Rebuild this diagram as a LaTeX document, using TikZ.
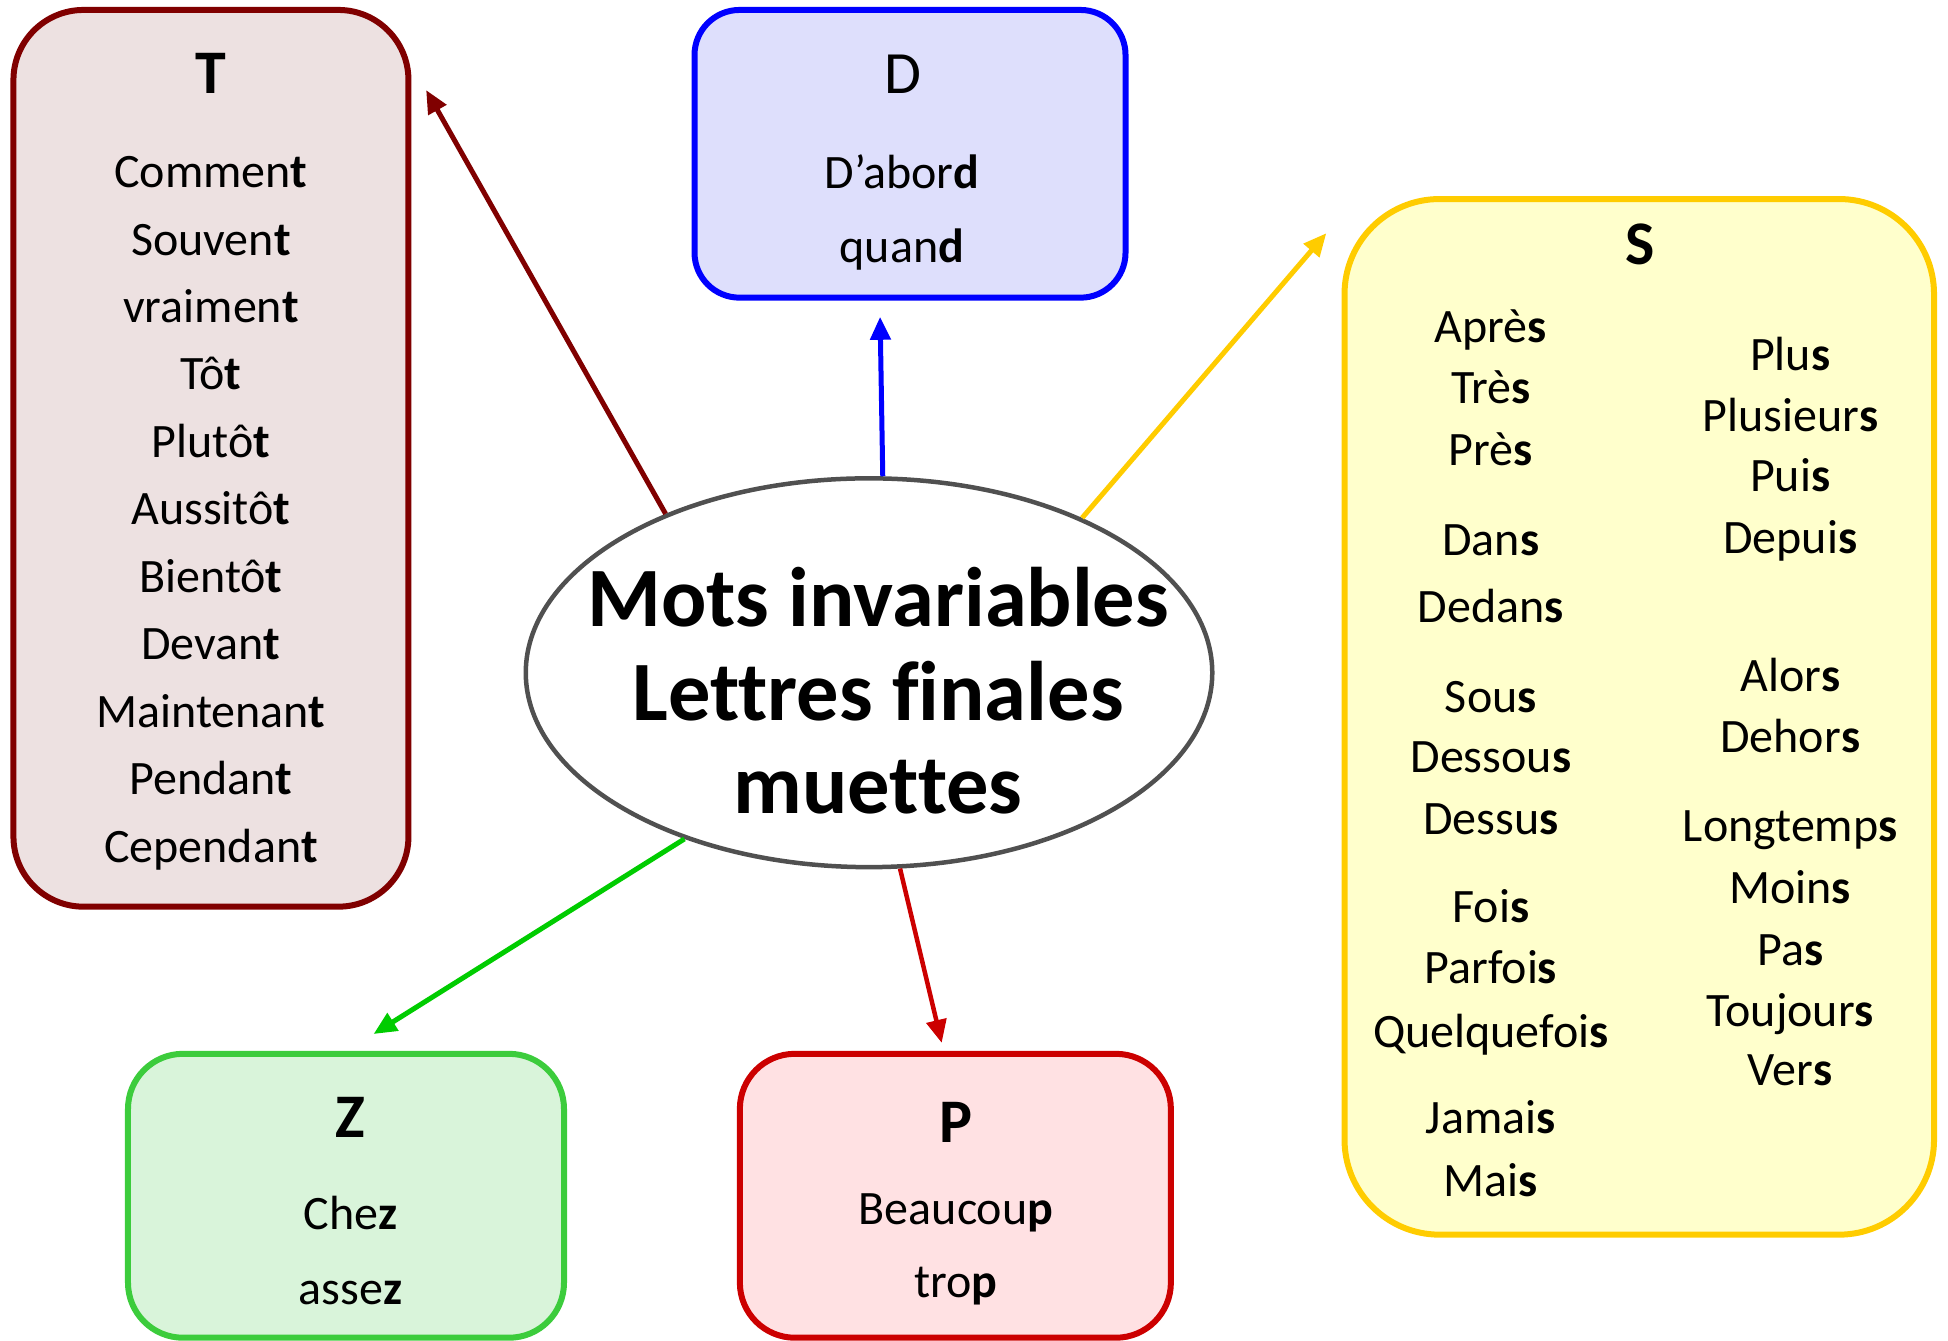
\documentclass[tikz,border=0pt]{standalone}
\usepackage{fontspec}
\setmainfont{Carlito}[Ligatures={NoCommon}]
\usetikzlibrary{arrows.meta,shapes.geometric}
\definecolor{tline}{RGB}{128,0,0}
\definecolor{tfill}{RGB}{237,225,225}
\definecolor{dline}{RGB}{0,0,255}
\definecolor{dfill}{RGB}{222,223,252}
\definecolor{sline}{RGB}{255,204,0}
\definecolor{sfill}{RGB}{255,255,204}
\definecolor{zline}{RGB}{60,204,60}
\definecolor{zarrow}{RGB}{0,204,0}
\definecolor{zfill}{RGB}{217,244,218}
\definecolor{pline}{RGB}{204,0,0}
\definecolor{pfill}{RGB}{255,225,227}
\definecolor{eline}{RGB}{80,80,80}
\begin{document}
\begin{tikzpicture}[x=1.242347bp,y=-1.242347bp,
  word/.style={anchor=base,inner sep=0pt,font=\fontsize{48bp}{50bp}\selectfont},
  headb/.style={anchor=base,inner sep=0pt,font=\fontsize{62bp}{64bp}\selectfont\bfseries},
  headr/.style={anchor=base,inner sep=0pt,font=\fontsize{60bp}{62bp}\selectfont},
  ttl/.style={anchor=base,inner sep=0pt,font=\fontsize{84.5bp}{90bp}\selectfont\bfseries},
  boxshape/.style={draw,line width=6bp,inner sep=0pt,rounded corners=#1},
  arr/.style={line width=5bp,-{Triangle[length=23bp,width=20bp]}}
]
\useasboundingbox (0,0) rectangle (1568,1079);

% boxes
\node[boxshape=70bp,draw=tline,fill=tfill,minimum width=395bp,minimum height=896.7bp] (T) at (169.8,368.9) {};
\node[boxshape=45bp,draw=dline,fill=dfill,minimum width=431bp,minimum height=287.7bp] (D) at (732.5,123.8) {};
\node[boxshape=95bp,draw=sline,fill=sfill,minimum width=589.5bp,minimum height=1035.6bp] (S) at (1319.5,577) {};
\node[boxshape=55bp,draw=zline,fill=zfill,minimum width=436bp,minimum height=283.9bp] (Z) at (278.5,962.5) {};
\node[boxshape=55bp,draw=pline,fill=pfill,minimum width=431bp,minimum height=283.9bp] (P) at (769,962.5) {};

% central ellipse
\node[ellipse,draw=eline,line width=4.5bp,fill=white,inner sep=0pt,minimum width=686.5bp,minimum height=388.8bp] (ell) at (699.5,541.5) {};
\node[ttl] (ti1) at (706.8,504.5) {Mots invariables};
\node[ttl] (ti2) at (706.8,579.6) {Lettres finales};
\node[ttl] (ti3) at (706.8,654.5) {muettes};

% T box
\node[headb] (tT) at (169.8,75) {T};
\node[word] (t1) at (169.8,151) {Commen\textbf{t}};
\node[word] (t2) at (169.8,205.3) {Souven\textbf{t}};
\node[word] (t3) at (169.8,259.6) {vraimen\textbf{t}};
\node[word] (t4) at (169.8,313.9) {Tô\textbf{t}};
\node[word] (t5) at (169.8,368.2) {Plutô\textbf{t}};
\node[word] (t6) at (169.8,422.5) {Aussitô\textbf{t}};
\node[word] (t7) at (169.8,476.8) {Bientô\textbf{t}};
\node[word] (t8) at (169.8,531.1) {Devan\textbf{t}};
\node[word] (t9) at (169.8,585.4) {Maintenan\textbf{t}};
\node[word] (t10) at (169.8,639.7) {Pendan\textbf{t}};
\node[word] (t11) at (169.8,694) {Cependan\textbf{t}};

% D box
\node[headr] (tD) at (727,75) {D};
\node[word] (d1) at (726,151.5) {D’abor\textbf{d}};
\node[word] (d2) at (726,211) {quan\textbf{d}};

% S box
\node[headb] (tS) at (1320,212.5) {S};
\node[word] (s1) at (1200,276) {Aprè\textbf{s}};
\node[word] (s2) at (1200,325) {Trè\textbf{s}};
\node[word] (s3) at (1200,374.5) {Prè\textbf{s}};
\node[word] (s4) at (1200,447) {Dan\textbf{s}};
\node[word] (s5) at (1200,501) {Dedan\textbf{s}};
\node[word] (s6) at (1200,573.5) {Sou\textbf{s}};
\node[word] (s7) at (1200,622) {Dessou\textbf{s}};
\node[word] (s8) at (1200,672) {Dessu\textbf{s}};
\node[word] (s9) at (1200,742.5) {Foi\textbf{s}};
\node[word] (s10) at (1200,792) {Parfoi\textbf{s}};
\node[word] (s11) at (1200,843) {Quelquefoi\textbf{s}};
\node[word] (s12) at (1200,912) {Jamai\textbf{s}};
\node[word] (s13) at (1200,963) {Mai\textbf{s}};
\node[word] (r1) at (1441,298) {Plu\textbf{s}};
\node[word] (r2) at (1441,347) {Plusieur\textbf{s}};
\node[word] (r3) at (1441,396) {Pui\textbf{s}};
\node[word] (r4) at (1441,445.5) {Depui\textbf{s}};
\node[word] (r5) at (1441,556.5) {Alor\textbf{s}};
\node[word] (r6) at (1441,606) {Dehor\textbf{s}};
\node[word] (r7) at (1441,677) {Longtemp\textbf{s}};
\node[word] (r8) at (1441,727) {Moin\textbf{s}};
\node[word] (r9) at (1441,777) {Pa\textbf{s}};
\node[word] (r10) at (1441,826) {Toujour\textbf{s}};
\node[word] (r11) at (1441,874) {Ver\textbf{s}};

% Z box
\node[headb] (tZ) at (282,915.6) {Z};
\node[word] (z1) at (282,990) {Che\textbf{z}};
\node[word] (z2) at (282,1050) {asse\textbf{z}};

% P box
\node[headb] (tP) at (769.5,919.7) {P};
\node[word] (p1) at (769.5,986) {Beaucou\textbf{p}};
\node[word] (p2) at (769.5,1044.5) {tro\textbf{p}};

% arrow tips
\coordinate (tipT) at (343,72.5);
\coordinate (tipD) at (708.4,255);
\coordinate (tipS) at (1067.6,187.7);
\coordinate (tipZ) at (300.7,832.3);
\coordinate (tipP) at (758,839.4);

\draw[arr,draw=tline,fill=tline] (ell.142.3) -- (tipT);
\draw[arr,draw=dline,fill=dline] (ell.86.7) -- (tipD);
\draw[arr,draw=sline,fill=sline] (ell.36.6) -- (tipS);
\draw[arr,draw=zarrow,fill=zarrow] (ell.222.6) -- (tipZ);
\draw[arr,line width=4.5bp,draw=pline,fill=pline] (ell.279.6) -- (tipP);
\end{tikzpicture}
\end{document}
